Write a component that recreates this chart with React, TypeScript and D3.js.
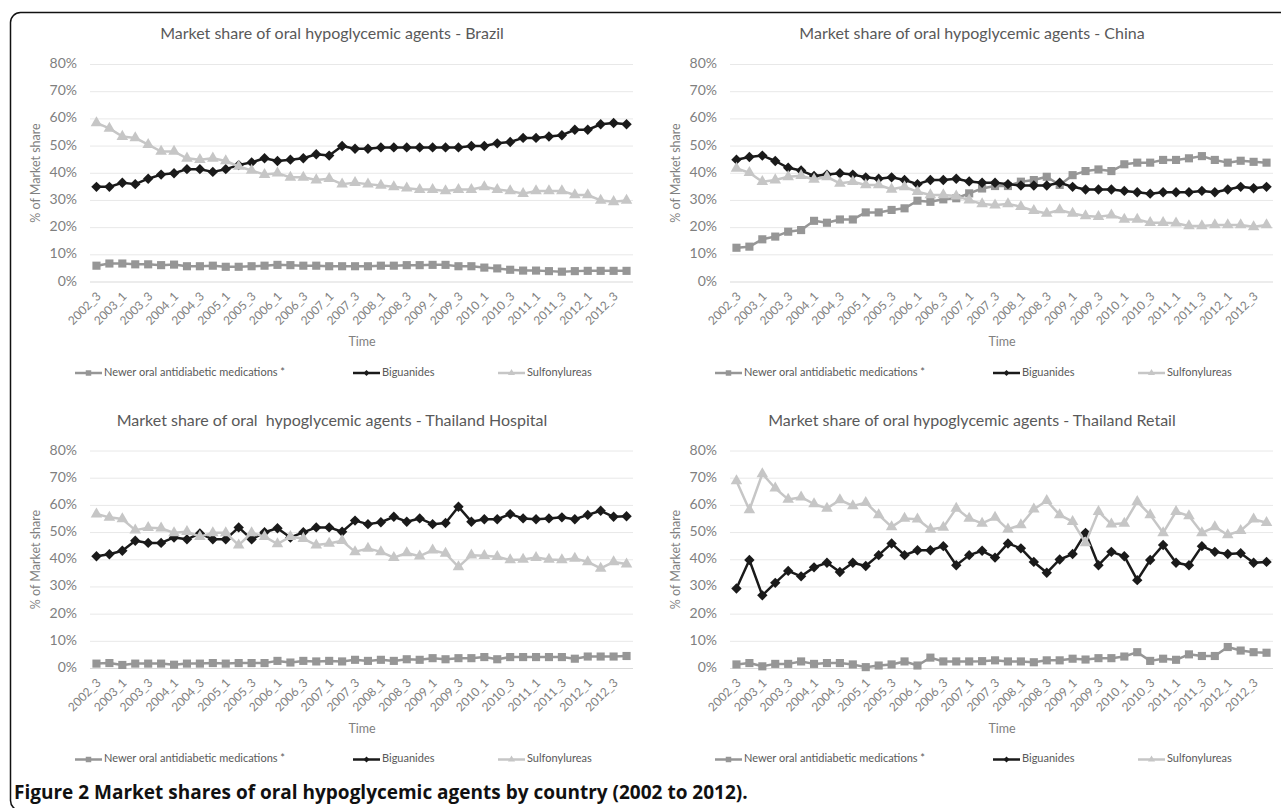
import React from "react";
import * as d3 from "d3";

const W = 1281;
const H = 808;

// quarters 2002_3 .. 2012_4
const quarters: string[] = [];
for (let y = 2002; y <= 2012; y++) {
  for (let q = 1; q <= 4; q++) {
    if (y === 2002 && q < 3) continue;
    quarters.push(`${y}_${q}`);
  }
}
const yTicks = [0, 10, 20, 30, 40, 50, 60, 70, 80];
const seriesNames = ["Newer oral antidiabetic medications *", "Biguanides", "Sulfonylureas"];

const brazilNewer = [6, 6.8, 6.8, 6.5, 6.5, 6.2, 6.4, 5.8, 5.8, 6, 5.6, 5.6, 5.8, 6, 6.3, 6.2, 6, 6, 5.8, 5.8, 5.8, 5.8, 6, 6, 6.2, 6.2, 6.3, 6.3, 5.8, 5.8, 5.3, 5, 4.5, 4.2, 4.2, 4, 3.8, 4, 4.1, 4.1, 4.1, 4.1];
const brazilBig = [35, 35, 36.5, 36, 38, 39.5, 40, 41.5, 41.5, 40.5, 41.5, 43, 44, 45.5, 44.5, 45, 45.5, 47, 46.5, 50, 49, 49, 49.5, 49.5, 49.5, 49.5, 49.5, 49.5, 49.5, 50, 50, 51, 51.5, 53, 53, 53.5, 54, 56, 56, 58, 58.5, 58];
const brazilSulf = [58.5, 56.5, 53.5, 53, 50.5, 48, 48, 45.5, 45, 45.5, 44.5, 42.5, 41, 39.5, 40, 38.5, 38.5, 37.5, 38, 36, 36.5, 36, 35.5, 35, 34.5, 34, 34, 33.5, 34, 34, 35, 34, 33.5, 32.5, 33.5, 33.5, 33.5, 32, 32, 30, 29.5, 30];

const chinaNewer = [12.6, 13, 15.7, 16.7, 18.5, 19.1, 22.5, 21.8, 23, 23, 25.6, 25.6, 26.5, 27.1, 29.9, 29.5, 30.4, 30.8, 32.6, 34.4, 35.3, 35.3, 36.9, 37.5, 38.7, 35.7, 39.3, 40.8, 41.4, 40.8, 43.3, 43.9, 43.9, 44.9, 44.9, 45.5, 46.3, 44.9, 43.9, 44.6, 44.2, 43.9];
const chinaBig = [45, 46, 46.5, 44.5, 42, 41, 39, 39.5, 40, 39.5, 38.5, 38, 38.5, 37.5, 36, 37.5, 37.5, 38, 37, 36.5, 36.5, 36, 35.5, 35.5, 35.5, 36.5, 35, 34, 34, 34, 33.5, 33, 32.5, 33, 33, 33, 33.5, 33, 34, 35, 34.5, 35];
const chinaSulf = [41.8, 40.2, 36.9, 37.5, 38.7, 39.1, 37.7, 38.7, 36.3, 36.9, 35.7, 35.7, 34.1, 35, 33.2, 32, 32, 31.6, 30.1, 28.7, 28.3, 28.7, 27.7, 26.2, 25.2, 26.5, 25.2, 24.3, 24, 24.6, 23, 23, 21.8, 21.8, 21.6, 20.6, 20.6, 21, 21, 21, 20.3, 21];

const hospNewer = [1.8, 2, 1.3, 1.8, 1.8, 1.8, 1.4, 1.8, 1.8, 2, 1.8, 2, 2, 2, 2.8, 2.2, 2.8, 2.6, 2.8, 2.6, 3.2, 2.8, 3.2, 2.8, 3.4, 3.2, 3.8, 3.4, 3.8, 3.8, 4.2, 3.4, 4.2, 4.2, 4.2, 4.2, 4.2, 3.6, 4.4, 4.4, 4.4, 4.6];
const hospBig = [41.3, 42, 43.3, 47, 46.2, 46.2, 48.2, 47.5, 49.7, 47.5, 47.5, 51.9, 47.5, 50.1, 51.6, 48.2, 50.1, 51.9, 51.9, 50.3, 54.4, 53.1, 53.8, 55.8, 54, 55.2, 53.1, 53.5, 59.5, 54, 54.9, 54.9, 56.8, 55.2, 54.9, 55.2, 55.6, 54.9, 56.5, 58, 55.8, 56];
const hospSulf = [56.8, 55.6, 55, 50.9, 51.8, 51.6, 49.9, 50.3, 48.5, 49.9, 49.9, 45.4, 49.9, 48.5, 45.8, 48.5, 47.8, 45.4, 46, 47, 42.9, 44.2, 42.9, 40.8, 42.5, 41.3, 43.5, 42.3, 37.4, 41.7, 41.5, 41.1, 39.9, 40.1, 40.8, 40.1, 39.9, 40.5, 39.2, 36.8, 39.2, 38.4];

const retailNewer = [1.5, 2, 0.8, 1.7, 1.7, 2.6, 1.7, 2, 2, 1.5, 0.5, 1.1, 1.5, 2.6, 1.1, 4, 2.6, 2.6, 2.6, 2.7, 3, 2.6, 2.6, 2.3, 3, 3, 3.6, 3.3, 3.8, 3.8, 4.4, 6, 2.8, 3.6, 3.2, 5.2, 4.6, 4.6, 7.9, 6.6, 6, 5.8];
const retailBig = [29.4, 39.9, 26.9, 31.5, 35.9, 33.9, 37.2, 38.9, 35.5, 38.9, 37.7, 41.7, 46, 41.7, 43.5, 43.5, 45, 38, 41.7, 43.3, 40.8, 46, 44.2, 39.2, 35.2, 40.1, 42.1, 49.9, 38, 42.9, 41.3, 32.5, 39.9, 45.4, 38.9, 38, 45, 42.9, 42.1, 42.4, 38.9, 39.2];
const retailSulf = [69, 58.3, 71.6, 66.3, 62.2, 63, 60.5, 58.9, 62, 59.8, 61, 56.5, 52.1, 55.2, 54.9, 51.2, 51.9, 58.9, 55.2, 53.4, 55.6, 51.2, 52.8, 58.6, 61.7, 56.5, 54, 46.2, 57.7, 53.1, 53.4, 61.4, 56.5, 49.9, 57.7, 56.1, 49.9, 52.1, 49.1, 50.7, 54.9, 53.6];

const panels = [
  { title: "Market share of oral hypoglycemic agents - Brazil", ox: 0, oy: 0, data: [brazilNewer, brazilBig, brazilSulf] },
  { title: "Market share of oral hypoglycemic agents - China", ox: 640, oy: 0, data: [chinaNewer, chinaBig, chinaSulf] },
  { title: "Market share of oral  hypoglycemic agents - Thailand Hospital", ox: 0, oy: 386.5, data: [hospNewer, hospBig, hospSulf] },
  { title: "Market share of oral hypoglycemic agents - Thailand Retail", ox: 640, oy: 386.5, data: [retailNewer, retailBig, retailSulf] },
];

const FONT = "Lato, 'Open Sans', sans-serif";
const colors = ["#969696", "#1a1a1a", "#c6c6c6"];
const sqPath = d3.symbol(d3.symbolSquare, 66)()!;
const diaPath = d3.symbol(d3.symbolSquare, 54)()!;
const triPath = d3.symbol(d3.symbolTriangle, 58)()!;
const markers = [sqPath, diaPath, triPath];
const markerRot = [0, 45, 0];
const legSq = d3.symbol(d3.symbolSquare, 30)()!;
const legDia = d3.symbol(d3.symbolSquare, 18)()!;
const legTri = d3.symbol(d3.symbolTriangle, 22)()!;
const legMarkers = [legSq, legDia, legTri];
const legendX = [75, 353, 498];

function Panel({ title, ox, oy, data }: { title: string; ox: number; oy: number; data: number[][] }) {
  const x = d3.scaleBand<string>().domain(quarters).range([ox + 90, ox + 633]);
  const y = d3.scaleLinear().domain([0, 80]).range([oy + 282, oy + 64.5]);
  const cx = (i: number) => x(quarters[i])! + x.bandwidth() / 2;
  const line = d3
    .line<number>()
    .x((_, i) => cx(i))
    .y((d) => y(d));
  return (
    <g>
      <text x={ox + 332} y={oy + 35} textAnchor="middle" dominantBaseline="middle" fontSize={16} fill="#595959" style={{ whiteSpace: "pre" }}>
        {title}
      </text>
      {yTicks.map((t) => (
        <g key={t}>
          <line x1={ox + 90} x2={ox + 633} y1={y(t)} y2={y(t)} stroke={t === 0 ? "#d9d9d9" : "#e8e8e8"} strokeWidth={1} />
          <text x={ox + 77} y={y(t)} textAnchor="end" dominantBaseline="middle" fontSize={14} fill="#7f7f7f">
            {t}%
          </text>
        </g>
      ))}
      <text
        transform={`translate(${ox + 37},${oy + 173}) rotate(-90)`}
        textAnchor="middle"
        dominantBaseline="middle"
        fontSize={12.5}
        fill="#7f7f7f"
      >
        % of Market share
      </text>
      {quarters.map((q, i) =>
        i % 2 === 0 ? (
          <text
            key={q}
            transform={`translate(${cx(i) + 3},${oy + 295}) rotate(-45)`}
            textAnchor="end"
            dominantBaseline="middle"
            fontSize={12}
            fill="#7f7f7f"
          >
            {q}
          </text>
        ) : null
      )}
      <text x={ox + 362} y={oy + 343} textAnchor="middle" dominantBaseline="middle" fontSize={12.5} fill="#7f7f7f">
        Time
      </text>
      {data.map((vals, s) => (
        <g key={s}>
          <path d={line(vals)!} fill="none" stroke={colors[s]} strokeWidth={2.5} strokeLinejoin="round" />
          {vals.map((v, i) => (
            <path key={i} d={markers[s]} transform={`translate(${cx(i)},${y(v)}) rotate(${markerRot[s]})`} fill={colors[s]} />
          ))}
        </g>
      ))}
      {seriesNames.map((n, s) => (
        <g key={n}>
          <line x1={ox + legendX[s]} x2={ox + legendX[s] + 27} y1={oy + 373} y2={oy + 373} stroke={colors[s]} strokeWidth={2.5} />
          <path d={legMarkers[s]} transform={`translate(${ox + legendX[s] + 13.5},${oy + 373}) rotate(${markerRot[s]})`} fill={colors[s]} />
          <text x={ox + legendX[s] + 29} y={oy + 373} dominantBaseline="middle" fontSize={11} fill="#595959">
            {n}
          </text>
        </g>
      ))}
    </g>
  );
}

export default function App() {
  return (
    <svg width={W} height={H} style={{ position: "absolute", left: 0, top: 0, background: "#fff" }} fontFamily={FONT}>
      <rect x={0} y={0} width={W} height={H} fill="#fff" />
      <rect x={10.5} y={12.5} width={1300} height={798} rx={10} fill="none" stroke="#111" strokeWidth={1.5} />
      {panels.map((p) => (
        <Panel key={p.title} {...p} />
      ))}
      <text x={14} y={799} fontSize={19} fontWeight="bold" fill="#111" fontFamily="'Open Sans', Lato, sans-serif">
        Figure 2 Market shares of oral hypoglycemic agents by country (2002 to 2012).
      </text>
    </svg>
  );
}
